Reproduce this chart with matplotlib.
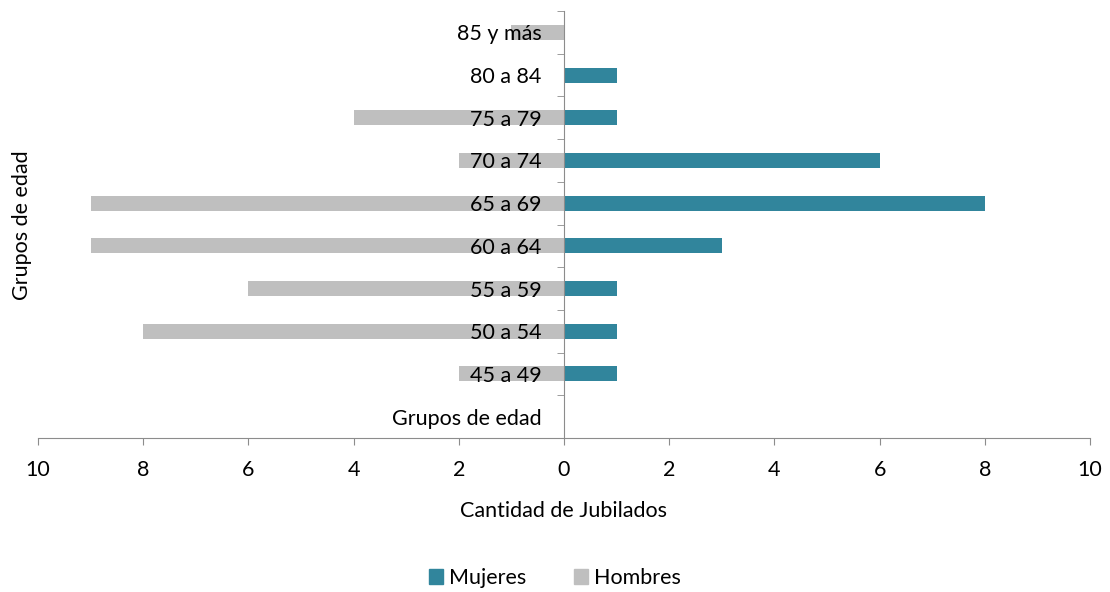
import numpy as np
import matplotlib.pyplot as plt
from matplotlib.patches import Patch

# datos (de abajo hacia arriba)
grupos = ['Grupos de edad', '45 a 49', '50 a 54', '55 a 59', '60 a 64',
          '65 a 69', '70 a 74', '75 a 79', '80 a 84', '85 y más']
mujeres = [0, 1, 1, 1, 3, 8, 6, 1, 1, 0]
hombres = [0, 2, 8, 6, 9, 9, 2, 4, 0, 1]
x_ticks = [-10, -8, -6, -4, -2, 0, 2, 4, 6, 8, 10]

plt.rcParams['font.family'] = ['Lato', 'DejaVu Sans']
fs = 15.5

color_muj = '#31859C'
color_hom = '#BFBFBF'
color_eje = '#8C8C8C'

fig = plt.figure(figsize=(11.1, 5.92), dpi=100)
ax = fig.add_axes([38 / 1110, 1 - 438 / 592, (1090 - 38) / 1110, (438 - 11) / 592])

y = np.arange(len(grupos))
ax.barh(y, [-h for h in hombres], height=0.35, color=color_hom, label='Hombres')
ax.barh(y, mujeres, height=0.35, color=color_muj, label='Mujeres')

ax.set_xlim(-10, 10)
ax.set_ylim(-0.5, len(grupos) - 0.5)

# eje vertical en el cero
for s in ['top', 'right']:
    ax.spines[s].set_visible(False)
ax.spines['left'].set_position(('data', 0))
ax.spines['left'].set_color(color_eje)
ax.spines['bottom'].set_color(color_eje)

ax.set_yticks(y)
ax.set_yticklabels(grupos, fontsize=fs)
ax.set_yticks(np.arange(-0.5, len(grupos)), minor=True)
ax.tick_params(axis='y', which='major', length=0, pad=16)
ax.tick_params(axis='y', which='minor', length=5, color=color_eje, direction='out')

ax.set_xticks(x_ticks)
ax.set_xticklabels([str(abs(v)) for v in x_ticks], fontsize=fs)
ax.tick_params(axis='x', length=5, color=color_eje, pad=11)

ax.set_xlabel('Cantidad de Jubilados', fontsize=fs, labelpad=15)
fig.text(22 / 1110, 1 - 225 / 592, 'Grupos de edad', rotation=90,
         fontsize=fs, ha='center', va='center')

handles = [Patch(color=color_muj, label='Mujeres'), Patch(color=color_hom, label='Hombres')]
fig.legend(handles=handles, loc='center', bbox_to_anchor=(0.5, 1 - 578 / 592), ncol=2,
           frameon=False, fontsize=fs, handlelength=0.65, handleheight=0.65,
           handletextpad=0.3, columnspacing=2.2)

fig.savefig('out.png', dpi=100)
